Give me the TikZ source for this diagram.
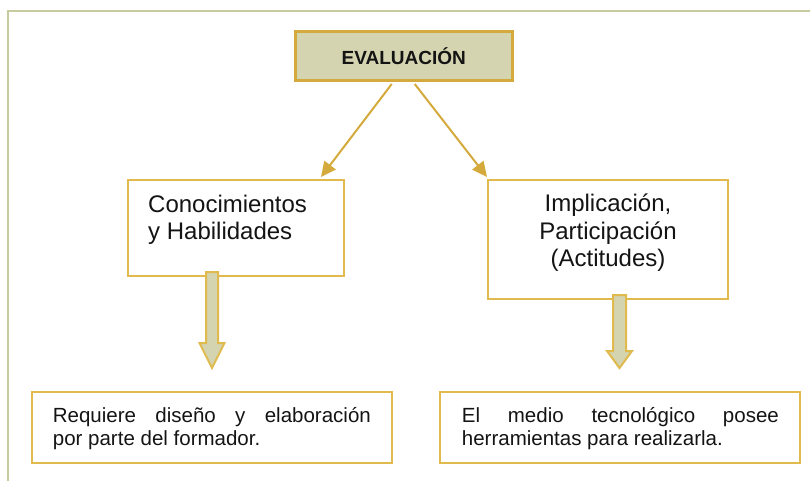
\documentclass[tikz,border=0pt]{standalone}
\usepackage{fontspec}
\setmainfont{Liberation Sans}
\usetikzlibrary{arrows.meta}
\definecolor{gold}{RGB}{224,186,76}
\definecolor{golddk}{RGB}{212,170,60}
\definecolor{olivefill}{RGB}{212,212,176}
\definecolor{framec}{RGB}{200,202,160}
\definecolor{txt}{RGB}{20,20,20}
\tikzset{
  boxa/.style={draw=gold, line width=2pt, fill=white, inner sep=0pt},
  evalbox/.style={draw=golddk, line width=3pt, fill=olivefill, inner sep=0pt,
    font=\fontsize{19}{22}\selectfont\bfseries, text=txt},
  bigtxt/.style={inner sep=0pt, font=\fontsize{24}{27.5}\selectfont, text=txt},
  smalltxt/.style={inner sep=0pt, font=\fontsize{20.5}{22.5}\selectfont, text=txt, text width=318pt, align=justify},
  conn/.style={draw=golddk, line width=2pt, -{Triangle[length=15pt,width=14pt]}},
  blockarrow/.style={draw=gold, line width=2pt, fill=olivefill, line join=miter}
}
\begin{document}
\begin{tikzpicture}[x=1pt,y=-1pt]
\useasboundingbox (0,0) rectangle (810,481);
% outer frame
\draw[framec, line width=2.5pt] (8,481) -- (8,11) -- (810,11);
% boxes
\node[evalbox, minimum width=216.5pt, minimum height=49pt] (eval) at (403.75,56.5) {EVALUACIÓN};
\node[boxa, minimum width=216pt, minimum height=96pt] (cono) at (236,228) {};
\node[bigtxt, anchor=west, align=left] (conot) at (148,220) {Conocimientos\\y Habilidades};
\node[boxa, minimum width=240pt, minimum height=119pt] (impl) at (608,239.5) {};
\node[bigtxt, align=center] (implt) at (608,233) {Implicación,\\Participación\\(Actitudes)};
\node[boxa, minimum width=360pt, minimum height=71pt] (req) at (212,427.5) {};
\node[smalltxt, anchor=west] (reqt) at (52.7,428.5) {\makebox[318pt][s]{Requiere diseño y elaboración}\\por parte del formador.};
\node[boxa, minimum width=360pt, minimum height=71pt] (med) at (620,427.5) {};
\node[smalltxt, anchor=west] (medt) at (461.7,428.5) {\makebox[317pt][s]{El medio tecnológico posee}\\herramientas para realizarla.};
% thin connectors
\draw[conn] ([xshift=-12pt,yshift=-1.5pt]eval.south) -- ([xshift=-24pt,yshift=2pt]cono.north east);
\draw[conn] ([xshift=11pt,yshift=-1.5pt]eval.south) -- ([yshift=2pt]impl.north west);
% block arrows
\coordinate (la) at (212,272);
\coordinate (ra) at (619.5,295);
\draw[blockarrow] ([xshift=-6pt]la) -- ++(0,71) -- ++(-6.5,0) -- (212,368) -- (224.5,343) -- (218,343) -- ([xshift=6pt]la) -- cycle;
\draw[blockarrow] ([xshift=-6.5pt]ra) -- ++(0,56) -- ++(-6,0) -- (619.5,368) -- (632,351) -- (626,351) -- ([xshift=6.5pt]ra) -- cycle;
\end{tikzpicture}
\end{document}
